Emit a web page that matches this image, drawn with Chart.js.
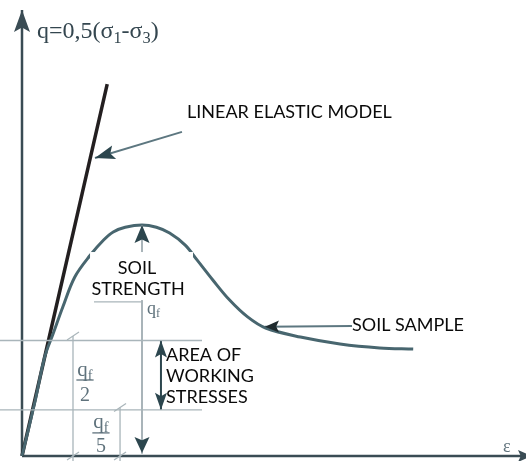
<!DOCTYPE html>
<html>
<head>
<meta charset="utf-8">
<script src="https://cdn.jsdelivr.net/npm/chart.js@4"></script>
<style>
  html, body { margin: 0; padding: 0; background: #fff; }
  #wrap { width: 526px; height: 461px; }
</style>
</head>
<body>
<div id="wrap"><canvas id="chart"></canvas></div>
<script>
// strain eps and deviator stress q (q in units of the peak strength qf)
const elasticEps = [0, 0.71];
const elasticQ = [0, 1.61];

const soilEps = [0, 0.11, 0.19, 0.26, 0.34, 0.44, 0.57, 0.68, 0.76, 0.86, 1.0, 1.12, 1.23, 1.36, 1.46, 1.59, 1.73, 1.88, 2.03, 2.32, 2.65, 2.98, 3.26];
const soilQ = [0, 0.24, 0.43, 0.53, 0.645, 0.775, 0.87, 0.935, 0.97, 0.99, 1.0, 0.99, 0.965, 0.913, 0.848, 0.762, 0.675, 0.602, 0.554, 0.515, 0.485, 0.468, 0.463];

// reference levels: qf/2, qf/5 and the short one under the strength label
const gridQ = [0.5, 0.2, 0.667];
const gridFrom = [-0.19, -0.19, 0.6];
const gridTo = [1.5, 1.5, 1.0];

// dimension lines for qf/2 and qf/5
const dimEps = [0.425, 0.817];
const dimTop = [0.52, 0.21];
const dimBottom = -0.03;

const peakEps = 1.0;
const peakQ = 1.0;
const workEps = 1.158;
const workLow = 0.2;
const workHigh = 0.5;

// annotation pointers [from eps, from q, to eps, to q]
const pointerElastic = [1.333, 1.403, 0.608, 1.29];
const pointerSample = [2.75, 0.563, 2.025, 0.56];

const axisEpsMax = 4.25;
const axisQMax = 1.931;

const labelElastic = 'LINEAR ELASTIC MODEL';
const labelStrength = ['SOIL', 'STRENGTH'];
const labelSample = 'SOIL SAMPLE';
const labelWorking = ['AREA OF', 'WORKING', 'STRESSES'];

const ink = '#3a4c54';
const arrowInk = '#2c464e';
const gridInk = '#a9b5ba';
const labelFont = '18px Lato';

function seg(xs, ys, color, width, tension) {
  return {
    data: xs.map((x, i) => ({ x, y: ys[i] })),
    showLine: true,
    borderColor: color,
    borderWidth: width,
    pointRadius: 0,
    tension: tension || 0,
    fill: false
  };
}

const datasets = [];
gridQ.forEach((q, i) => datasets.push(seg([gridFrom[i], gridTo[i]], [q, q], gridInk, 1.3)));
dimEps.forEach((e, i) => datasets.push(seg([e, e], [dimTop[i], dimBottom], gridInk, 1.3)));
datasets.push(seg([peakEps, peakEps], [peakQ, 0.01], '#8d9ca3', 1.5));
datasets.push(seg(soilEps, soilQ, '#48666f', 3, 0.35));
datasets.push(seg(elasticEps, elasticQ, '#231f20', 3.5));
datasets.push(seg([workEps, workEps], [workLow, workHigh], arrowInk, 2));
datasets.push(seg([pointerElastic[0], pointerElastic[2]], [pointerElastic[1], pointerElastic[3]], '#5d7780', 2));
datasets.push(seg([pointerSample[0], pointerSample[2]], [pointerSample[1], pointerSample[3]], '#5d7780', 2));
datasets.push(seg([0, axisEpsMax], [0, 0], ink, 2.5));
datasets.push(seg([0, 0], [0, axisQMax], ink, 2.5));

function arrowHead(ctx, tx, ty, fx, fy, len, half, color) {
  const a = Math.atan2(ty - fy, tx - fx);
  ctx.save();
  ctx.translate(tx, ty);
  ctx.rotate(a);
  ctx.fillStyle = color;
  ctx.beginPath();
  ctx.moveTo(0, 0);
  ctx.lineTo(-len, -half);
  ctx.lineTo(-len * 0.8, 0);
  ctx.lineTo(-len, half);
  ctx.closePath();
  ctx.fill();
  ctx.restore();
}

// text with subscripts: parts = [[text, isSub], ...]
function richText(ctx, parts, x, y, size, family, color) {
  ctx.fillStyle = color;
  ctx.textBaseline = 'middle';
  ctx.textAlign = 'left';
  let cx = x;
  parts.forEach(([t, sub]) => {
    const s = sub ? size * 0.68 : size;
    ctx.font = s + 'px ' + family;
    ctx.fillText(t, cx, sub ? y + size * 0.28 : y);
    cx += ctx.measureText(t).width;
  });
  return cx - x;
}

function richWidth(ctx, parts, size, family) {
  let w = 0;
  parts.forEach(([t, sub]) => {
    ctx.font = (sub ? size * 0.68 : size) + 'px ' + family;
    w += ctx.measureText(t).width;
  });
  return w;
}

const overlay = {
  id: 'overlay',
  afterDatasetsDraw(chart) {
    const ctx = chart.ctx;
    const X = chart.scales.x, Y = chart.scales.y;
    const px = v => X.getPixelForValue(v);
    const py = v => Y.getPixelForValue(v);

    // axes arrows
    arrowHead(ctx, px(0), py(axisQMax), px(0), py(0), 22, 8, ink);
    arrowHead(ctx, px(axisEpsMax), py(0), px(0), py(0), 14, 6, ink);

    // dimension ticks
    ctx.strokeStyle = gridInk;
    ctx.lineWidth = 1.2;
    dimEps.forEach((e, i) => {
      [dimTop[i], 0].forEach(q => {
        ctx.beginPath();
        ctx.moveTo(px(e) - 6, py(q) + 4);
        ctx.lineTo(px(e) + 6, py(q) - 4);
        ctx.stroke();
      });
    });

    // strength arrows
    arrowHead(ctx, px(peakEps), py(peakQ), px(peakEps), py(0), 18, 7.5, arrowInk);
    arrowHead(ctx, px(peakEps), py(0) - 3, px(peakEps), py(peakQ), 16, 7.5, arrowInk);
    arrowHead(ctx, px(workEps), py(workHigh), px(workEps), py(workLow), 17, 6, arrowInk);
    arrowHead(ctx, px(workEps), py(workLow), px(workEps), py(workHigh), 17, 6, arrowInk);

    // pointers
    arrowHead(ctx, px(pointerElastic[2]), py(pointerElastic[3]), px(pointerElastic[0]), py(pointerElastic[1]), 20, 7, arrowInk);
    arrowHead(ctx, px(pointerSample[2]), py(pointerSample[3]), px(pointerSample[0]), py(pointerSample[1]), 14, 6, '#1f2a2e');

    // white box behind strength label
    ctx.fillStyle = '#fff';
    ctx.fillRect(px(0.567), py(0.883), px(1.425) - px(0.567), py(0.675) - py(0.883));

    ctx.fillStyle = '#0a0a0a';
    ctx.font = labelFont;
    ctx.textBaseline = 'middle';
    ctx.textAlign = 'left';
    ctx.fillText(labelElastic, px(1.375), py(1.489));
    ctx.fillText(labelSample, px(2.75), py(0.567));
    [0.437, 0.346, 0.255].forEach((q, i) => ctx.fillText(labelWorking[i], px(1.2), py(q)));
    ctx.textAlign = 'center';
    ctx.fillText(labelStrength[0], px(0.958), py(0.814));
    ctx.fillText(labelStrength[1], px(0.967), py(0.723));

    // serif math labels
    const serif = '"Liberation Serif", "DejaVu Serif", serif';
    richText(ctx, [['q=0,5(σ', false], ['1', true], ['-σ', false], ['3', true], [')', false]], px(0.125), py(1.835), 24, serif, '#34464f');
    ctx.font = '18px ' + serif;
    ctx.fillStyle = '#5f727c';
    ctx.textAlign = 'center';
    ctx.fillText('ε', px(4.04), py(0.039));

    const qf = [['q', false], ['f', true]];
    const grey = '#5f727c';
    richText(ctx, qf, px(1.042), py(0.636), 18, serif, grey);

    [[0.525, 0.372, 0.329, 0.262, '2'], [0.658, 0.145, 0.1, 0.041, '5']].forEach(([e, qn, qb, qd, d]) => {
      const w = richWidth(ctx, qf, 21, serif);
      richText(ctx, qf, px(e) - w / 2, py(qn), 21, serif, grey);
      ctx.strokeStyle = grey;
      ctx.lineWidth = 1.3;
      ctx.beginPath();
      ctx.moveTo(px(e) - w / 2 - 1, py(qb));
      ctx.lineTo(px(e) + w / 2 + 1, py(qb));
      ctx.stroke();
      ctx.font = '20px ' + serif;
      ctx.textAlign = 'center';
      ctx.fillStyle = grey;
      ctx.fillText(d, px(e), py(qd));
    });
  }
};

new Chart(document.getElementById('chart'), {
  type: 'scatter',
  data: { datasets },
  options: {
    responsive: true,
    maintainAspectRatio: false,
    animation: false,
    events: [],
    layout: { padding: 0 },
    plugins: { legend: { display: false }, tooltip: { enabled: false } },
    scales: {
      x: { type: 'linear', display: false, min: -22 / 120, max: 504 / 120 },
      y: { type: 'linear', display: false, min: -5 / 231, max: 456 / 231 }
    }
  },
  plugins: [overlay]
});
</script>
</body>
</html>
